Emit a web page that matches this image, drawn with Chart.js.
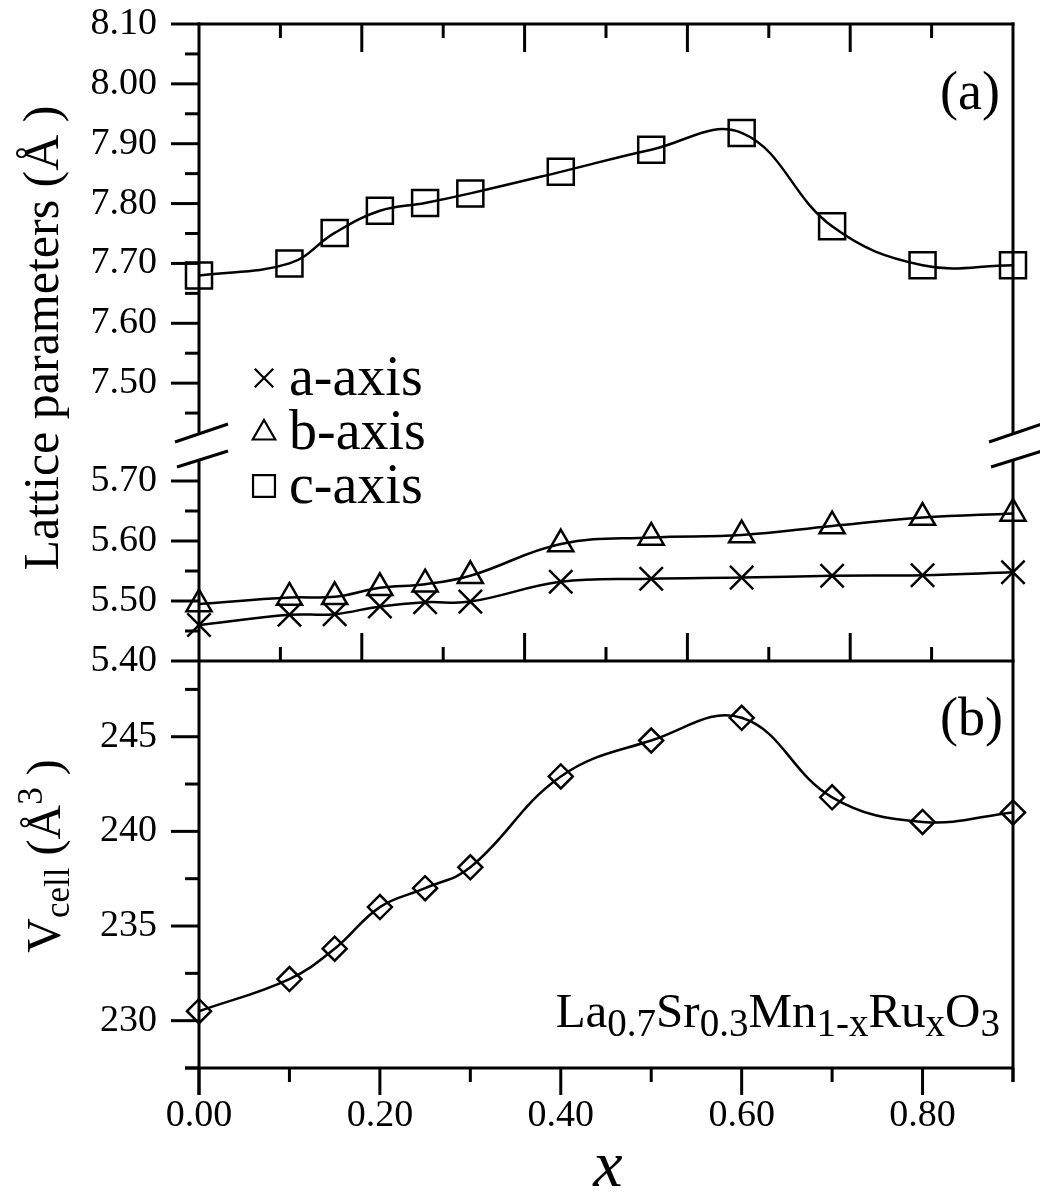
<!DOCTYPE html>
<html>
<head>
<meta charset="UTF-8">
<title>La0.7Sr0.3Mn1-xRuxO3 lattice parameters</title>
<script src="https://cdn.jsdelivr.net/npm/chart.js"></script>
<style>
  body { margin: 0; background: #fff; }
  #wrap { position: relative; width: 1040px; height: 1199px; }
  #wrap canvas { position: absolute; left: 0; top: 0; }
</style>
</head>
<body>
<div id="wrap">
  <canvas id="gC" width="1040" height="1199"></canvas>
  <canvas id="gAB" width="1040" height="1199"></canvas>
  <canvas id="gV" width="1040" height="1199"></canvas>
</div>
<script>
// Ru content x
const xVals = [0, 0.10, 0.15, 0.20, 0.25, 0.30, 0.40, 0.50, 0.60, 0.70, 0.80, 0.90]
// lattice parameters (A)
const aAxis = [5.460, 5.477, 5.478, 5.491, 5.498, 5.499, 5.532, 5.537, 5.539, 5.542, 5.543, 5.548]
const bAxis = [5.495, 5.506, 5.507, 5.522, 5.528, 5.542, 5.595, 5.606, 5.610, 5.625, 5.639, 5.646]
const cAxis = [7.680, 7.700, 7.751, 7.788, 7.801, 7.817, 7.853, 7.890, 7.918, 7.762, 7.697, 7.697]
// cell volume (A^3)
const vCell = [230.5, 232.2, 233.8, 236.0, 237.0, 238.1, 242.9, 244.8, 246.0, 241.8, 240.5, 241.0]

// ticks
const xTicks = [0, 0.2, 0.4, 0.6, 0.8]
const xMinor = [0.1, 0.3, 0.5, 0.7, 0.9]
const cTicks = [7.5, 7.6, 7.7, 7.8, 7.9, 8.0, 8.1]
const cMinor = [7.45, 7.55, 7.65, 7.75, 7.85, 7.95, 8.05]
const abTicks = [5.4, 5.5, 5.6, 5.7]
const abMinor = [5.45, 5.55, 5.65]
const vTicks = [230, 235, 240, 245]
const vMinor = [227.5, 232.5, 237.5, 242.5, 247.5]

const FONT = "'Liberation Serif', 'Times New Roman', serif"
const LEFT = 199, RIGHT = 1013
const BREAK_TOP = 434, BREAK_BOT = 460

const line = (ctx, x1, y1, x2, y2) => {
  ctx.beginPath(); ctx.moveTo(x1, y1); ctx.lineTo(x2, y2); ctx.stroke()
}

// text with sub/superscripts: parts = [[text, size, dy, italic]]
const rich = (ctx, parts, x, y, align) => {
  let total = 0
  parts.forEach(p => {
    ctx.font = (p[3] ? 'italic ' : '') + p[1] + 'px ' + FONT
    p.w = ctx.measureText(p[0]).width
    total += p.w
  })
  let cx = align === 'right' ? x - total : align === 'center' ? x - total / 2 : x
  ctx.textAlign = 'left'
  ctx.textBaseline = 'alphabetic'
  ctx.fillStyle = '#000'
  parts.forEach(p => {
    ctx.font = (p[3] ? 'italic ' : '') + p[1] + 'px ' + FONT
    ctx.fillText(p[0], cx, y + (p[2] || 0))
    cx += p.w
  })
}

const pts = ys => xVals.map((x, i) => ({ x: x, y: ys[i] }))

const serie = (label, ys, style, r) => ({
  label: label,
  data: pts(ys),
  showLine: true,
  tension: 0.4,
  borderColor: '#000',
  borderWidth: 2.5,
  pointStyle: style,
  pointRadius: r,
  pointHoverRadius: r,
  pointBorderWidth: 2.5,
  pointBorderColor: '#000',
  pointBackgroundColor: 'rgba(0,0,0,0)',
  clip: false
})

const noPad = s => { s.paddingTop = 0; s.paddingBottom = 0; s.paddingLeft = 0; s.paddingRight = 0 }

const yAxis = (min, max, ticks, dec) => ({
  type: 'linear', position: 'left', min: min, max: max,
  afterFit: s => { s.width = LEFT; noPad(s) },
  afterBuildTicks: s => { s.ticks = ticks.map(v => ({ value: v })) },
  grid: { display: false, drawTicks: false },
  border: { display: false },
  ticks: { padding: 42, color: '#000', font: { family: FONT, size: 38 }, callback: v => v.toFixed(dec) }
})

const hiddenX = { type: 'linear', position: 'bottom', min: 0, max: 0.9, display: false }
const topX = { type: 'linear', axis: 'x', position: 'top', min: 0, max: 1, display: false }

const opts = (padTop, padBottom, scales) => ({
  responsive: false,
  animation: false,
  devicePixelRatio: 1,
  events: [],
  layout: { padding: { top: padTop, bottom: padBottom, left: 0, right: 1040 - RIGHT } },
  plugins: { legend: { display: false }, tooltip: { enabled: false } },
  scales: scales
})

const pen = ctx => { ctx.save(); ctx.strokeStyle = '#000'; ctx.lineWidth = 3; ctx.lineCap = 'butt' }

const legendMark = (ctx, style, r, x, y) => {
  ctx.save()
  ctx.lineWidth = 2.2
  ctx.strokeStyle = '#000'
  ctx.fillStyle = 'rgba(0,0,0,0)'
  Chart.helpers.drawPoint(ctx, { pointStyle: style, radius: r, borderWidth: 2.2, rotation: 0 }, x, y)
  ctx.restore()
}

// (a) upper part: c-axis
new Chart(document.getElementById('gC'), {
  type: 'scatter',
  data: { datasets: [serie('c-axis', cAxis, 'rect', 18.4)] },
  options: opts(24, 1199 - 443, { x: hiddenX, xt: topX, y: yAxis(7.40, 8.10, cTicks, 2) }),
  plugins: [{
    id: 'frameC',
    afterDraw: chart => {
      const ctx = chart.ctx, ys = chart.scales.y, xt = chart.scales.xt
      const top = chart.chartArea.top
      pen(ctx)
      line(ctx, LEFT, top, RIGHT + 1.5, top)
      line(ctx, LEFT, top - 1.5, LEFT, BREAK_TOP)
      line(ctx, RIGHT, top - 1.5, RIGHT, BREAK_TOP)
      for (let i = 1; i < 10; i++) {
        const x = xt.getPixelForValue(i / 10)
        line(ctx, x, top, x, top + (i % 2 === 0 ? 28 : 14))
      }
      cTicks.forEach(v => { const y = ys.getPixelForValue(v); line(ctx, LEFT - 28, y, LEFT, y) })
      cMinor.forEach(v => { const y = ys.getPixelForValue(v); line(ctx, LEFT - 14, y, LEFT, y) })
      ctx.restore()

      ctx.save()
      rich(ctx, [['(a)', 54]], 1000, 109, 'right')
      // y title
      ctx.translate(58, 338)
      ctx.rotate(-Math.PI / 2)
      rich(ctx, [['Lattice parameters (Å )', 50]], 0, 0, 'center')
      ctx.restore()

      // legend
      ctx.save()
      legendMark(ctx, 'crossRot', 13, 264, 378)
      legendMark(ctx, 'triangle', 13, 264, 433)
      legendMark(ctx, 'rect', 15.5, 264, 486)
      rich(ctx, [['a-axis', 56]], 289, 395, 'left')
      rich(ctx, [['b-axis', 56]], 289, 449, 'left')
      rich(ctx, [['c-axis', 56]], 289, 503, 'left')
      ctx.restore()
    }
  }]
})

// (a) lower part: a- and b-axis
new Chart(document.getElementById('gAB'), {
  type: 'scatter',
  data: { datasets: [serie('a-axis', aAxis, 'crossRot', 16.5), serie('b-axis', bAxis, 'triangle', 14.5)] },
  options: opts(451, 1199 - 661, { x: hiddenX, xt: topX, y: yAxis(5.40, 5.75, abTicks, 2) }),
  plugins: [{
    id: 'frameAB',
    afterDraw: chart => {
      const ctx = chart.ctx, ys = chart.scales.y, xt = chart.scales.xt
      const bottom = chart.chartArea.bottom
      pen(ctx)
      line(ctx, LEFT, BREAK_BOT, LEFT, bottom)
      line(ctx, RIGHT, BREAK_BOT, RIGHT, bottom)
      line(ctx, LEFT, bottom, RIGHT + 1.5, bottom)
      for (let i = 1; i < 10; i++) {
        const x = xt.getPixelForValue(i / 10)
        line(ctx, x, bottom, x, bottom - (i % 2 === 0 ? 28 : 14))
      }
      abTicks.forEach(v => { const y = ys.getPixelForValue(v); line(ctx, LEFT - 28, y, LEFT, y) })
      abMinor.forEach(v => { const y = ys.getPixelForValue(v); line(ctx, LEFT - 14, y, LEFT, y) })
      // axis break marks
      ;[LEFT, RIGHT].forEach(x0 => {
        line(ctx, x0 - 24, 442, x0 + 29, 424)
        line(ctx, x0 - 22, 467, x0 + 29, 451)
      })
      ctx.restore()
    }
  }]
})

// (b) cell volume
new Chart(document.getElementById('gV'), {
  type: 'scatter',
  data: { datasets: [serie('Vcell', vCell, 'rectRot', 12)] },
  options: opts(661, 0, {
    x: {
      type: 'linear', position: 'bottom', min: 0, max: 0.9,
      afterFit: s => { s.height = 1199 - 1068; noPad(s) },
      afterBuildTicks: s => { s.ticks = xTicks.map(v => ({ value: v })) },
      grid: { display: false, drawTicks: false },
      border: { display: false },
      ticks: { padding: 25, autoSkip: false, maxRotation: 0, color: '#000', font: { family: FONT, size: 38 }, callback: v => v.toFixed(2) }
    },
    y: yAxis(227.5, 249, vTicks, 0)
  }),
  plugins: [{
    id: 'frameV',
    afterDraw: chart => {
      const ctx = chart.ctx, ys = chart.scales.y, xs = chart.scales.x
      const top = chart.chartArea.top, bottom = chart.chartArea.bottom
      pen(ctx)
      line(ctx, LEFT, top, LEFT, bottom + 27)
      line(ctx, RIGHT, top, RIGHT, bottom + 14)
      line(ctx, LEFT - 14, bottom, RIGHT, bottom)
      xTicks.forEach(v => { const x = xs.getPixelForValue(v); line(ctx, x, bottom, x, bottom + 27) })
      xMinor.forEach(v => { const x = xs.getPixelForValue(v); line(ctx, x, bottom, x, bottom + 14) })
      vTicks.forEach(v => { const y = ys.getPixelForValue(v); line(ctx, LEFT - 28, y, LEFT, y) })
      vMinor.forEach(v => { const y = ys.getPixelForValue(v); line(ctx, LEFT - 14, y, LEFT, y) })
      ctx.restore()

      ctx.save()
      rich(ctx, [['(b)', 54]], 1003, 735, 'right')
      rich(ctx, [['La', 49], ['0.7', 39, 9], ['Sr', 49], ['0.3', 39, 9], ['Mn', 49], ['1-x', 39, 9],
                 ['Ru', 49], ['x', 39, 9], ['O', 49], ['3', 39, 9]], 1000, 1027, 'right')
      rich(ctx, [['x', 66, 0, true]], 608, 1186, 'center')
      ctx.translate(60, 856)
      ctx.rotate(-Math.PI / 2)
      rich(ctx, [['V', 48], ['cell', 35, 9], [' (Å', 48], ['3', 35, -18], [' )', 48]], 0, 0, 'center')
      ctx.restore()
    }
  }]
})
</script>
</body>
</html>
